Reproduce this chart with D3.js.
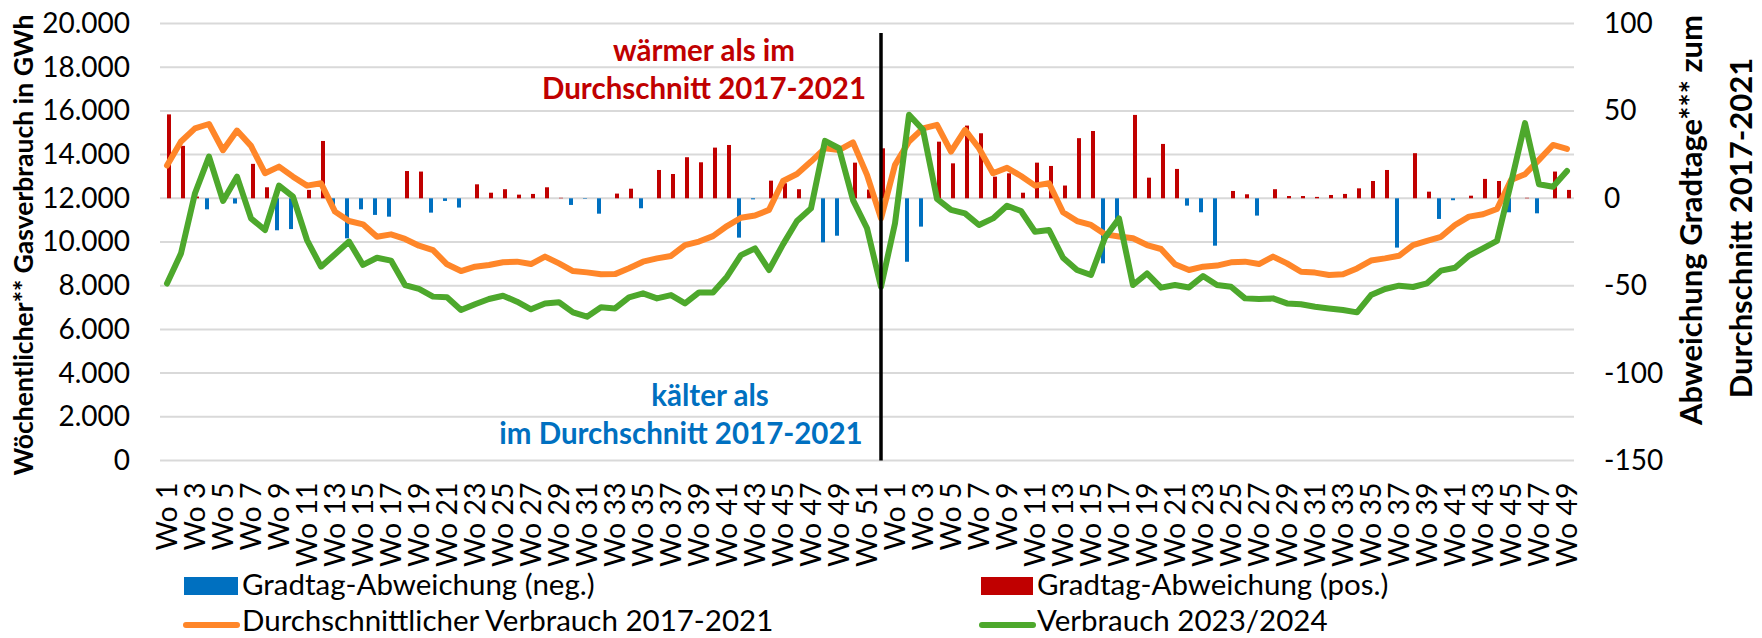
<!DOCTYPE html>
<html><head><meta charset="utf-8">
<script src="https://cdn.jsdelivr.net/npm/d3@7"></script>
<style>body{margin:0;background:#fff;} text{font-family:Lato, "Open Sans", sans-serif;}</style>
</head><body><svg id="c" width="1762" height="638"></svg>
<script>
const weeksYear1 = d3.range(1, 53).map(w => "Wo " + w);
const weeksYear2 = d3.range(1, 50).map(w => "Wo " + w);
const categories = weeksYear1.concat(weeksYear2);

// Durchschnittlicher Verbrauch 2017-2021 (GWh)
const durchschnitt = [13500,14600,15200,15400,14200,15100,14400,13150,13450,12990,12580,12690,11390,10960,10810,10240,10350,10140,9830,9630,8980,8670,8870,8950,9070,9100,8990,9330,9020,8670,8610,8520,8530,8800,9100,9250,9360,9860,10020,10270,10730,11110,11210,11470,12790,13110,13680,14290,14210,14560,13070,11080,
13530,14600,15200,15360,14140,15130,14290,13150,13400,13020,12580,12690,11360,10960,10780,10350,10250,10170,9860,9680,8980,8720,8870,8920,9070,9100,8990,9330,9020,8640,8600,8490,8520,8790,9150,9250,9370,9860,10050,10240,10780,11160,11270,11510,12840,13100,13760,14440,14260];

// Verbrauch 2023/2024 (GWh)
const verbrauch = [8100,9480,12230,13910,11880,12990,11080,10550,12580,12080,10090,8870,9440,10020,8950,9280,9150,8030,7850,7500,7470,6890,7150,7390,7540,7270,6920,7190,7240,6780,6580,7010,6960,7470,7650,7420,7570,7190,7690,7690,8410,9400,9710,8720,9890,10960,11540,14630,14290,11920,10630,7950,
10850,15820,15130,11970,11470,11310,10780,11080,11660,11420,10470,10550,9280,8720,8490,10200,11080,8030,8560,7910,8030,7920,8440,8030,7950,7420,7390,7420,7190,7150,7040,6960,6890,6780,7570,7850,8000,7940,8110,8690,8820,9370,9710,10050,12700,15440,12640,12530,13250];

// Gradtag-Abweichung zum Durchschnitt 2017-2021
const gradtag = [48,30,1,-6.3,0,-3,19.7,6.3,-18.3,-17.6,4.8,32.8,-4,-22.9,-6.3,-9.5,-10.5,15.6,15.3,-8.2,-1.5,-5.3,8,3.2,5.2,2.1,2.5,6.3,0.3,-3.8,-0.3,-8.8,2.7,5.5,-5.7,16.2,13.9,23.5,20.6,29,30.5,-22.5,-0.6,10.1,8.6,5.2,0,-25.2,-21.4,20.4,5,28.6,
0,-36.3,-16.2,32.4,20,41.6,37.2,12.4,14.3,3.2,20.4,18.5,7.3,34.4,38.5,-37.2,-11.8,47.7,11.8,31.1,16.8,-4.2,-8,-27.1,4.2,2.3,-9.9,5.2,1.3,1.3,0.8,1.9,2.5,5.7,9.9,16.2,-28.2,25.8,3.8,-11.8,-1.1,1.5,11.1,9.9,-8,0.3,-8.6,15.3,4.8];

const leftTicks = [0,2000,4000,6000,8000,10000,12000,14000,16000,18000,20000];
const rightTicks = [-150,-100,-50,0,50,100];

const C = {blue:"#0070C0", red:"#C00000", orange:"#FF8629", green:"#4DA82C", grid:"#D9D9D9"};
const L = 160, R = 1574, T = 23.5, B = 460.5;

const svg = d3.select("#c");
const de = d3.formatLocale({decimal:",", thousands:".", grouping:[3], currency:["","€"]});
const fmt = de.format(",");

const idx = d3.range(categories.length);
const x = d3.scaleBand().domain(idx).range([L, R]).paddingInner(0).paddingOuter(0);
const bw = x.bandwidth();
const yL = d3.scaleLinear().domain([0, 20000]).range([B, T]);
const yR = d3.scaleLinear().domain([-150, 100]).range([B, T]);

// gridlines
svg.append("g").selectAll("line").data(leftTicks).join("line")
  .attr("x1", L).attr("x2", R).attr("y1", d => yL(d)).attr("y2", d => yL(d))
  .attr("stroke", C.grid).attr("stroke-width", 2);

// bars
const barW = 4;
svg.append("g").selectAll("rect").data(idx.filter(i => gradtag[i] < 0)).join("rect")
  .attr("x", i => x(i) + bw/2 - barW).attr("width", barW)
  .attr("y", yR(0)).attr("height", i => yR(gradtag[i]) - yR(0))
  .attr("fill", C.blue);
svg.append("g").selectAll("rect").data(idx.filter(i => gradtag[i] > 0)).join("rect")
  .attr("x", i => x(i) + bw/2).attr("width", barW)
  .attr("y", i => yR(gradtag[i])).attr("height", i => yR(0) - yR(gradtag[i]))
  .attr("fill", C.red);

// lines
const line = arr => d3.line().x((d, i) => x(i) + bw/2).y(d => yL(d))(arr);
svg.append("path").attr("d", line(durchschnitt)).attr("fill", "none")
  .attr("stroke", C.orange).attr("stroke-width", 6).attr("stroke-linejoin", "round").attr("stroke-linecap", "round");
svg.append("path").attr("d", line(verbrauch)).attr("fill", "none")
  .attr("stroke", C.green).attr("stroke-width", 6).attr("stroke-linejoin", "round").attr("stroke-linecap", "round");

// year separator
svg.append("line").attr("x1", x(51) + bw/2).attr("x2", x(51) + bw/2).attr("y1", 33).attr("y2", B)
  .attr("stroke", "#000").attr("stroke-width", 3.5);

// axes
const gL = svg.append("g").attr("transform", `translate(${L},0)`)
  .call(d3.axisLeft(yL).tickValues(leftTicks).tickSize(0).tickPadding(30).tickFormat(fmt));
const gR = svg.append("g").attr("transform", `translate(${R},0)`)
  .call(d3.axisRight(yR).tickValues(rightTicks).tickSize(0).tickPadding(30).tickFormat(d => d));
const gX = svg.append("g").attr("transform", `translate(0,${B})`)
  .call(d3.axisBottom(x).tickValues(d3.range(0, categories.length, 2)).tickSize(0).tickFormat(i => categories[i]));
[gL, gR, gX].forEach(g => {
  g.select(".domain").remove();
  g.selectAll("text").attr("font-size", 28).attr("fill", "#000").style("font-family", "Lato, sans-serif");
});
gX.selectAll("text").attr("font-size", 28.5).attr("transform", "rotate(-90)").attr("text-anchor", "end")
  .attr("x", -22).attr("y", 0).attr("dy", "0.35em");

// axis titles
svg.append("text").attr("transform", "translate(33,245) rotate(-90)").attr("text-anchor", "middle")
  .attr("font-size", 26.5).attr("font-weight", "bold").text("Wöchentlicher** Gasverbrauch in GWh");
svg.append("text").attr("transform", "translate(1702,220) rotate(-90)").attr("text-anchor", "middle")
  .attr("font-size", 31).attr("font-weight", "bold").text("Abweichung Gradtage*** zum");
svg.append("text").attr("transform", "translate(1752,228) rotate(-90)").attr("text-anchor", "middle")
  .attr("font-size", 31).attr("font-weight", "bold").text("Durchschnitt 2017-2021");

// annotations
const afs = 29.5;
const ann = (t, cx, y, col) => svg.append("text").attr("x", cx).attr("y", y).attr("text-anchor", "middle")
  .attr("font-size", afs).attr("font-weight", "bold").attr("fill", col).text(t);
ann("wärmer als im", 704, 61, C.red);
ann("Durchschnitt 2017-2021", 704, 99, C.red);
ann("kälter als", 710, 406, C.blue);
ann("im Durchschnitt 2017-2021", 681, 444, C.blue);

// legend
const lfs = 29.5;
const leg = svg.append("g");
leg.append("rect").attr("x", 184).attr("y", 577).attr("width", 54).attr("height", 18).attr("fill", C.blue);
leg.append("text").attr("x", 242).attr("y", 595).attr("font-size", lfs).text("Gradtag-Abweichung (neg.)");
leg.append("rect").attr("x", 981).attr("y", 577).attr("width", 52).attr("height", 18).attr("fill", C.red);
leg.append("text").attr("x", 1037).attr("y", 595).attr("font-size", lfs).text("Gradtag-Abweichung (pos.)");
leg.append("line").attr("x1", 186).attr("x2", 237).attr("y1", 625).attr("y2", 625)
  .attr("stroke", C.orange).attr("stroke-width", 6).attr("stroke-linecap", "round");
leg.append("text").attr("x", 242).attr("y", 631).attr("font-size", lfs).text("Durchschnittlicher Verbrauch 2017-2021");
leg.append("line").attr("x1", 982).attr("x2", 1033).attr("y1", 625).attr("y2", 625)
  .attr("stroke", C.green).attr("stroke-width", 6).attr("stroke-linecap", "round");
leg.append("text").attr("x", 1037).attr("y", 631).attr("font-size", lfs).text("Verbrauch 2023/2024");
</script></body></html>
